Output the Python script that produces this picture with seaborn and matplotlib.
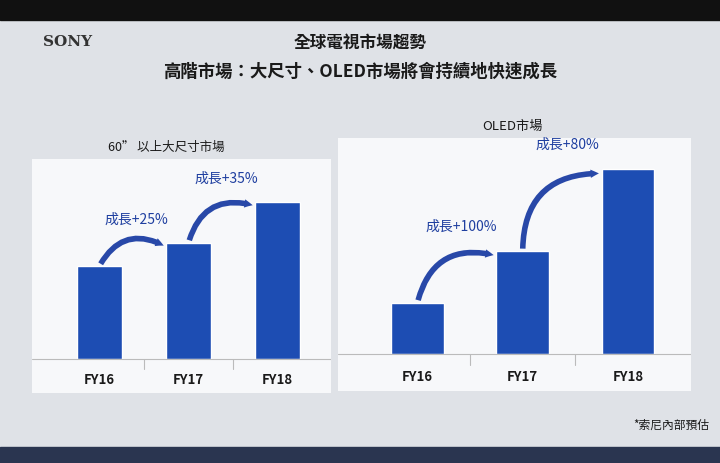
import matplotlib
matplotlib.use("Agg")
import matplotlib.pyplot as plt
from matplotlib.patches import FancyArrowPatch, Rectangle
import seaborn as sns
import pandas as pd

years = ["FY16", "FY17", "FY18"]
large_vals = [100, 125, 169]
large_growth = ["成長+25%", "成長+35%"]
oled_vals = [100, 200, 360]
oled_growth = ["成長+100%", "成長+80%"]

sns.set_theme(style="white")
plt.rcParams["font.family"] = ["Noto Sans CJK TC", "DejaVu Sans"]

BAR = "#1d4db3"
TXT = "#1a1a1a"
fig = plt.figure(figsize=(7.2, 4.64), dpi=100, facecolor="#dfe2e7")
fig.patches.append(Rectangle((0, 0.955), 1, 0.045, transform=fig.transFigure,
                             color="#111111", zorder=0))
fig.patches.append(Rectangle((0, 0.0), 1, 0.035, transform=fig.transFigure,
                             color="#2a3550", zorder=0))
fig.text(0.06, 0.9, "SONY", fontsize=11, fontweight="bold", color="#333",
         family="DejaVu Serif")
fig.text(0.5, 0.895, "全球電視市場趨勢", ha="center", fontsize=12,
         fontweight="bold", color=TXT)
fig.text(0.5, 0.835, "高階市場：大尺寸、OLED市場將會持續地快速成長", ha="center",
         fontsize=12.5, fontweight="bold", color=TXT)
fig.text(0.15, 0.675, "60” 以上大尺寸市場", fontsize=9, color=TXT)
fig.text(0.67, 0.72, "OLED市場", fontsize=9.5, color=TXT)
fig.text(0.985, 0.075, "*索尼內部預估", ha="right", fontsize=8.5, color=TXT)


def panel(rect, vals, growth, top):
    ax = fig.add_axes(rect)
    ax.set_facecolor("#f7f8fa")
    df = pd.DataFrame({"year": years, "val": vals})
    sns.barplot(data=df, x="year", y="val", color=BAR, width=0.5, ax=ax,
                saturation=1)
    ax.set_ylim(-top * 0.17, top)
    ax.set_xlim(-0.75, 2.6)
    ax.axhline(0, color="#bbb", lw=0.8)
    for xs in (0.5, 1.5):
        ax.plot([xs, xs], [0, -top * 0.05], color="#bbb", lw=0.8)
    for i, y in enumerate(years):
        ax.text(i, -top * 0.1, y, ha="center", va="center", fontsize=9.5,
                fontweight="bold", color=TXT)
    for i, g in enumerate(growth):
        arr = FancyArrowPatch((i, vals[i]),
                              (i + 1 - 0.25, vals[i + 1] - top * 0.02),
                              connectionstyle="arc3,rad=-0.5",
                              arrowstyle="simple,head_width=6,head_length=6,tail_width=4",
                              color="#2848a8", lw=0)
        ax.add_patch(arr)
        ax.text(i + 0.42, vals[i + 1] + top * 0.1, g,
                ha="center", fontsize=10, color="#1f3fa0")
    ax.set_xlabel("")
    ax.set_ylabel("")
    ax.set_xticks([])
    ax.set_yticks([])
    for s in ax.spines.values():
        s.set_visible(False)
    return ax


panel([0.045, 0.15, 0.415, 0.505], large_vals, large_growth, 215)
panel([0.47, 0.155, 0.49, 0.545], oled_vals, oled_growth, 420)

fig.savefig("out.png", dpi=100, facecolor=fig.get_facecolor())
